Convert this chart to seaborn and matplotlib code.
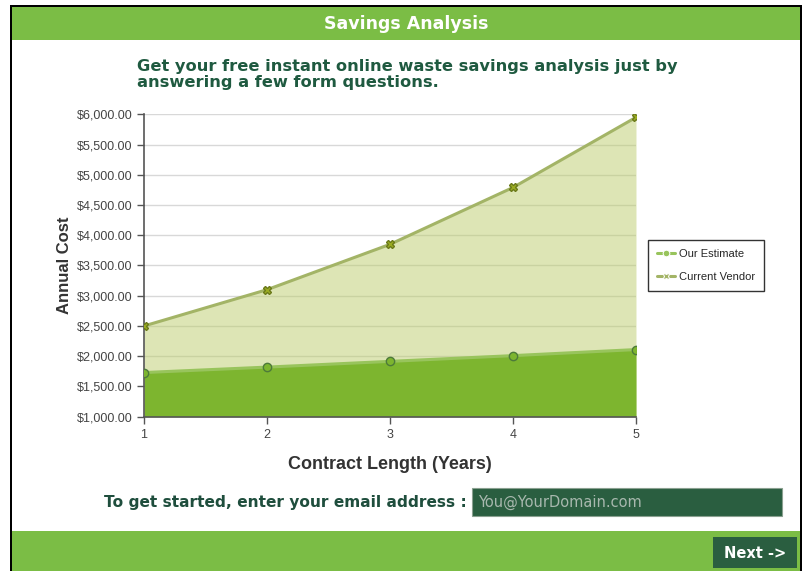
import matplotlib
matplotlib.use("Agg")
import matplotlib.pyplot as plt
import matplotlib.patches as mpatches
from matplotlib.ticker import FuncFormatter
import pandas as pd
import seaborn as sns

# данные
years = [1, 2, 3, 4, 5]
our_estimate = [1730, 1820, 1915, 2010, 2110]
current_vendor = [2500, 3100, 3850, 4790, 5950]
series_names = ["Our Estimate", "Current Vendor"]

df = pd.DataFrame({
    "year": years * 2,
    "cost": our_estimate + current_vendor,
    "series": [series_names[0]] * len(years) + [series_names[1]] * len(years),
})

sns.set_style("white")
plt.rcParams["font.family"] = ["Liberation Sans", "DejaVu Sans"]
page_font = ["DejaVu Sans"]

W, H = 807, 571
fig = plt.figure(figsize=(W / 100, H / 100), dpi=100)


def px_rect(x0, y0, x1, y1, **kw):
    # прямоугольник в пикселях (от верхнего левого угла)
    fig.patches.append(mpatches.Rectangle(
        (x0 / W, 1 - y1 / H), (x1 - x0) / W, (y1 - y0) / H,
        transform=fig.transFigure, figure=fig, **kw))


# рамка и полосы страницы
px_rect(12, 7, 800, 40, facecolor="#7bbd45", edgecolor="none")
px_rect(12, 531, 800, 571, facecolor="#7bbd45", edgecolor="none")
px_rect(10, 5, 12, 571, facecolor="black", edgecolor="none")
px_rect(10, 5, 802, 7, facecolor="black", edgecolor="none")
px_rect(800, 5, 802, 571, facecolor="black", edgecolor="none")
px_rect(472, 488, 782, 516, facecolor="#2a5e40", edgecolor="#8aa090", linewidth=0.8)
px_rect(713, 537, 797, 568, facecolor="#2a5e40", edgecolor="none")

fig.text(406 / W, 1 - 24 / H, "Savings Analysis", color="white", fontsize=12.5,
         fontweight="bold", ha="center", va="center", family=page_font)
fig.text(137 / W, 1 - 66 / H, "Get your free instant online waste savings analysis just by",
         color="#1f5a40", fontsize=11.7, fontweight="bold", ha="left", va="center", family=page_font)
fig.text(137 / W, 1 - 83 / H, "answering a few form questions.",
         color="#1f5a40", fontsize=11.7, fontweight="bold", ha="left", va="center", family=page_font)
fig.text(467 / W, 1 - 502 / H, "To get started, enter your email address :",
         color="#1f4e3d", fontsize=11.1, fontweight="bold", ha="right", va="center", family=page_font)
fig.text(478 / W, 1 - 502 / H, "You@YourDomain.com", color="#a8b8ae", fontsize=10.5,
         ha="left", va="center", family=page_font)
fig.text(755 / W, 1 - 553 / H, "Next ->", color="white", fontsize=10.5,
         fontweight="bold", ha="center", va="center", family=page_font)

# область графика
ax = fig.add_axes([144 / W, 1 - 416.7 / H, (636 - 144) / W, (416.7 - 114.3) / H])

ax.fill_between(years, 1000, current_vendor, color="#bccd6c", alpha=0.5, linewidth=0, zorder=1)
ax.fill_between(years, 1000, our_estimate, color="#7db52f", linewidth=0, zorder=2)

sns.lineplot(data=df, x="year", y="cost", hue="series", style="series",
             palette={series_names[0]: "#98c45c", series_names[1]: "#a3b466"},
             markers={series_names[0]: "o", series_names[1]: "X"},
             dashes=False, linewidth=2.2, markersize=6, ax=ax, zorder=3)
for line, mfc, mec in zip(ax.lines, ["#7db52f", "#9aab22"], ["#4d7a3a", "#6b7a1a"]):
    line.set_markerfacecolor(mfc)
    line.set_markeredgecolor(mec)
    line.set_markeredgewidth(1)

ax.set_xlim(1, 5)
ax.set_ylim(1000, 6000)
ax.set_xticks(years)
ax.set_yticks(range(1000, 6001, 500))
ax.yaxis.set_major_formatter(FuncFormatter(lambda v, p: f"${v:,.2f}"))
ax.grid(axis="y", color="#d8d8d8", linewidth=1)
ax.set_axisbelow(True)
ax.tick_params(axis="both", labelsize=9, labelcolor="#444444", color="#555555",
               length=5, width=1, direction="out", left=True, bottom=True)
for side in ["top", "right"]:
    ax.spines[side].set_visible(False)
for side in ["left", "bottom"]:
    ax.spines[side].set_color("#555555")
    ax.spines[side].set_linewidth(1.2)

ax.set_xlabel("Contract Length (Years)", fontsize=13, fontweight="bold", color="#333333", labelpad=11)
ax.set_ylabel("Annual Cost", fontsize=12, fontweight="bold", color="#333333", labelpad=3)

handles, labels = ax.get_legend_handles_labels()
leg = ax.legend(handles, labels, loc="upper left", bbox_to_anchor=(648 / W, 1 - 240 / H),
                bbox_transform=fig.transFigure, borderaxespad=0, fontsize=8, frameon=True,
                fancybox=False, handlelength=1.6, handletextpad=0.4, borderpad=0.8,
                labelspacing=1.2, title=None, markerscale=0.8)
leg.get_frame().set_edgecolor("black")
leg.get_frame().set_linewidth(1)

fig.savefig("out.png", dpi=100)
